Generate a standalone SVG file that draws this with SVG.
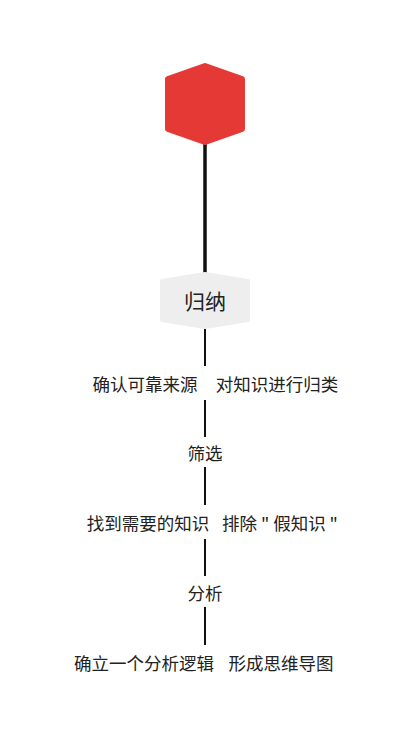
<svg xmlns="http://www.w3.org/2000/svg" width="410" height="743" viewBox="0 0 410 743">
<style>
.t{font-family:"Noto Sans CJK SC","Microsoft YaHei",sans-serif;font-size:17.5px;fill:#222;text-anchor:middle;dominant-baseline:central}
.c{stroke:#111;fill:none}
</style>
<rect width="410" height="743" fill="#fff"/>
<g id="connectors">
<line class="c" x1="205" y1="140" x2="205" y2="274" stroke-width="3.5"/>
<line class="c" x1="205" y1="328" x2="205" y2="366" stroke-width="2"/>
<line class="c" x1="205" y1="400" x2="205" y2="437" stroke-width="2"/>
<line class="c" x1="205" y1="467" x2="205" y2="505" stroke-width="2"/>
<line class="c" x1="205" y1="539" x2="205" y2="576" stroke-width="2"/>
<line class="c" x1="205" y1="607" x2="205" y2="645" stroke-width="2"/>
</g>
<g id="root">
<path d="M205,66 L242,79 L242,129 L205,142 L168,129 L168,79 Z" fill="#e53935" stroke="#e53935" stroke-width="6" stroke-linejoin="round"/>
</g>
<g id="guina">
<path d="M205,274 L248,281 L248,320 L205,327 L162,320 L162,281 Z" fill="#eeeeee" stroke="#eeeeee" stroke-width="4" stroke-linejoin="round"/>
<text class="t" x="205" y="300" style="font-size:21px">归纳</text>
</g>
<g id="n1"><text class="t" x="145" y="383">确认可靠来源</text></g>
<g id="n2"><text class="t" x="277" y="383">对知识进行归类</text></g>
<g id="n3"><text class="t" x="205" y="452">筛选</text></g>
<g id="n4"><text class="t" x="148" y="522">找到需要的知识</text></g>
<g id="n5"><text class="t" x="280" y="522">排除 " 假知识 "</text></g>
<g id="n6"><text class="t" x="205" y="592">分析</text></g>
<g id="n7"><text class="t" x="144" y="662">确立一个分析逻辑</text></g>
<g id="n8"><text class="t" x="281" y="662">形成思维导图</text></g>
</svg>
